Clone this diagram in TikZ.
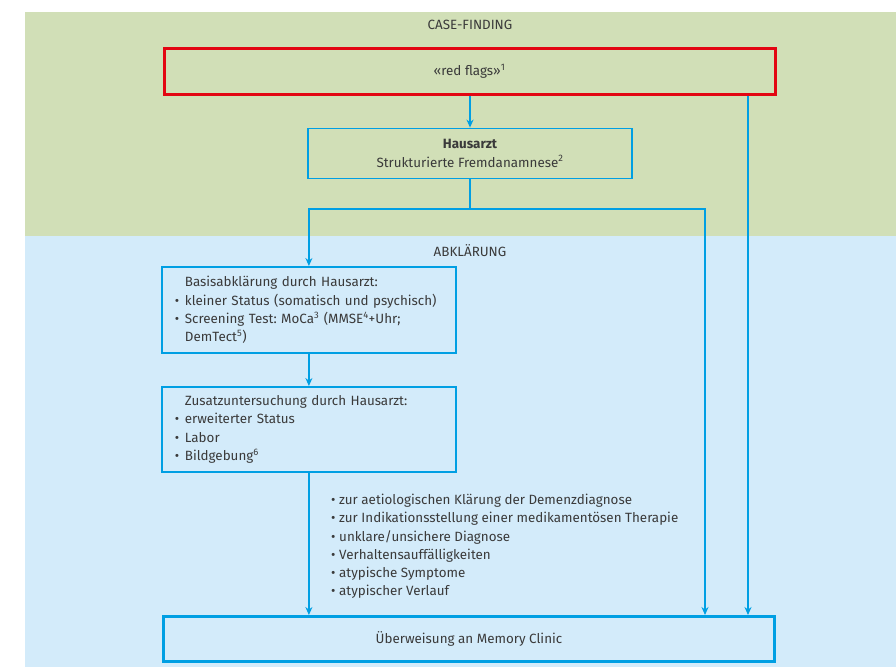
\documentclass[tikz,border=0pt]{standalone}
\usepackage{fontspec}
\setmainfont{Fira Sans}
\usetikzlibrary{positioning,arrows.meta}
\definecolor{casegreen}{HTML}{D1DFB7}
\definecolor{clearblue}{HTML}{D3EBFA}
\definecolor{lineblue}{HTML}{009FE3}
\definecolor{flagred}{HTML}{E30613}
\definecolor{textgray}{HTML}{3A3A3A}
\frenchspacing
\newcommand{\bul}[1][10pt]{\makebox[#1][l]{\textbullet}}
\newcommand{\ind}{\hspace*{10pt}}
\tikzset{
  stepbox/.style={rectangle,draw=lineblue,line width=1.8pt,inner xsep=13pt},
  bigbox/.style={rectangle,line width=3pt,minimum width=611pt},
  flow/.style={draw=lineblue,line width=1.6pt},
  arrowed/.style={-{Stealth[length=8pt,width=7pt]}}
}

\begin{document}
\begin{tikzpicture}[x=1pt,y=-1pt,font=\fontsize{13.4}{18.2}\selectfont,text=textgray]
  \useasboundingbox (0,0) rectangle (896,667);
  \fill[casegreen] (25,12) rectangle (896,236);
  \fill[clearblue] (25,236) rectangle (896,667);
  \node (casefinding) at (470,25) {CASE-FINDING};
  \node (abklaerung) at (470,251) {ABKLÄRUNG};
  \node[bigbox,draw=flagred,minimum height=46pt] (flags) at (469.5,71.5) {«red flags»\textsuperscript{1}};
  \node[stepbox,minimum width=324pt,minimum height=50pt,align=center] (hausarzt) at (470,153.5) {{\bfseries Hausarzt}\\Strukturierte Fremdanamnese\textsuperscript{2}};
  \node[stepbox,anchor=north west,text width=268pt,minimum height=86pt,align=left] (basis) at (161,266) {\ind Basisabklärung durch Hausarzt:\\
    \bul kleiner Status (somatisch und psychisch)\\
    \bul Screening Test: MoCa\textsuperscript{3} (MMSE\textsuperscript{4}+Uhr;\\
    \ind DemTect\textsuperscript{5})};
  \node[stepbox,anchor=north west,text width=268pt,minimum height=85pt,align=left] (zusatz) at (161,386) {\ind Zusatzuntersuchung durch Hausarzt:\\
    \bul erweiterter Status\\
    \bul Labor\\
    \bul Bildgebung\textsuperscript{6}};
  \node[anchor=north west,align=left,inner sep=0pt] (reasons) at (331,494) {\bul[8pt]zur aetiologischen Klärung der Demenzdiagnose\\
    \bul[8pt]zur Indikationsstellung einer medikamentösen Therapie\\
    \bul[8pt]unklare/unsichere Diagnose\\
    \bul[8pt]Verhaltensauffälligkeiten\\
    \bul[8pt]atypische Symptome\\
    \bul[8pt]atypischer Verlauf};
  \node[bigbox,draw=lineblue,minimum height=45pt] (ueber) at (469,639) {Überweisung an Memory Clinic};
  \coordinate (split) at (470,209);
  \coordinate (midcol) at (705,209);
  \coordinate (rightcol) at (748,96);
  \draw[flow,arrowed] (hausarzt.north |- flags.south) -- (hausarzt.north);
  \draw[flow,arrowed] (flags.south -| rightcol) -- (ueber.north -| rightcol);
  \draw[flow] (hausarzt.south) -- (split);
  \draw[flow,arrowed] (split) -| (basis.north);
  \draw[flow,arrowed] (split) -| (ueber.north -| midcol);
  \draw[flow,arrowed] (basis) -- (zusatz);
  \draw[flow,arrowed] (zusatz.south) -- (ueber.north -| zusatz.south);
\end{tikzpicture}
\end{document}
